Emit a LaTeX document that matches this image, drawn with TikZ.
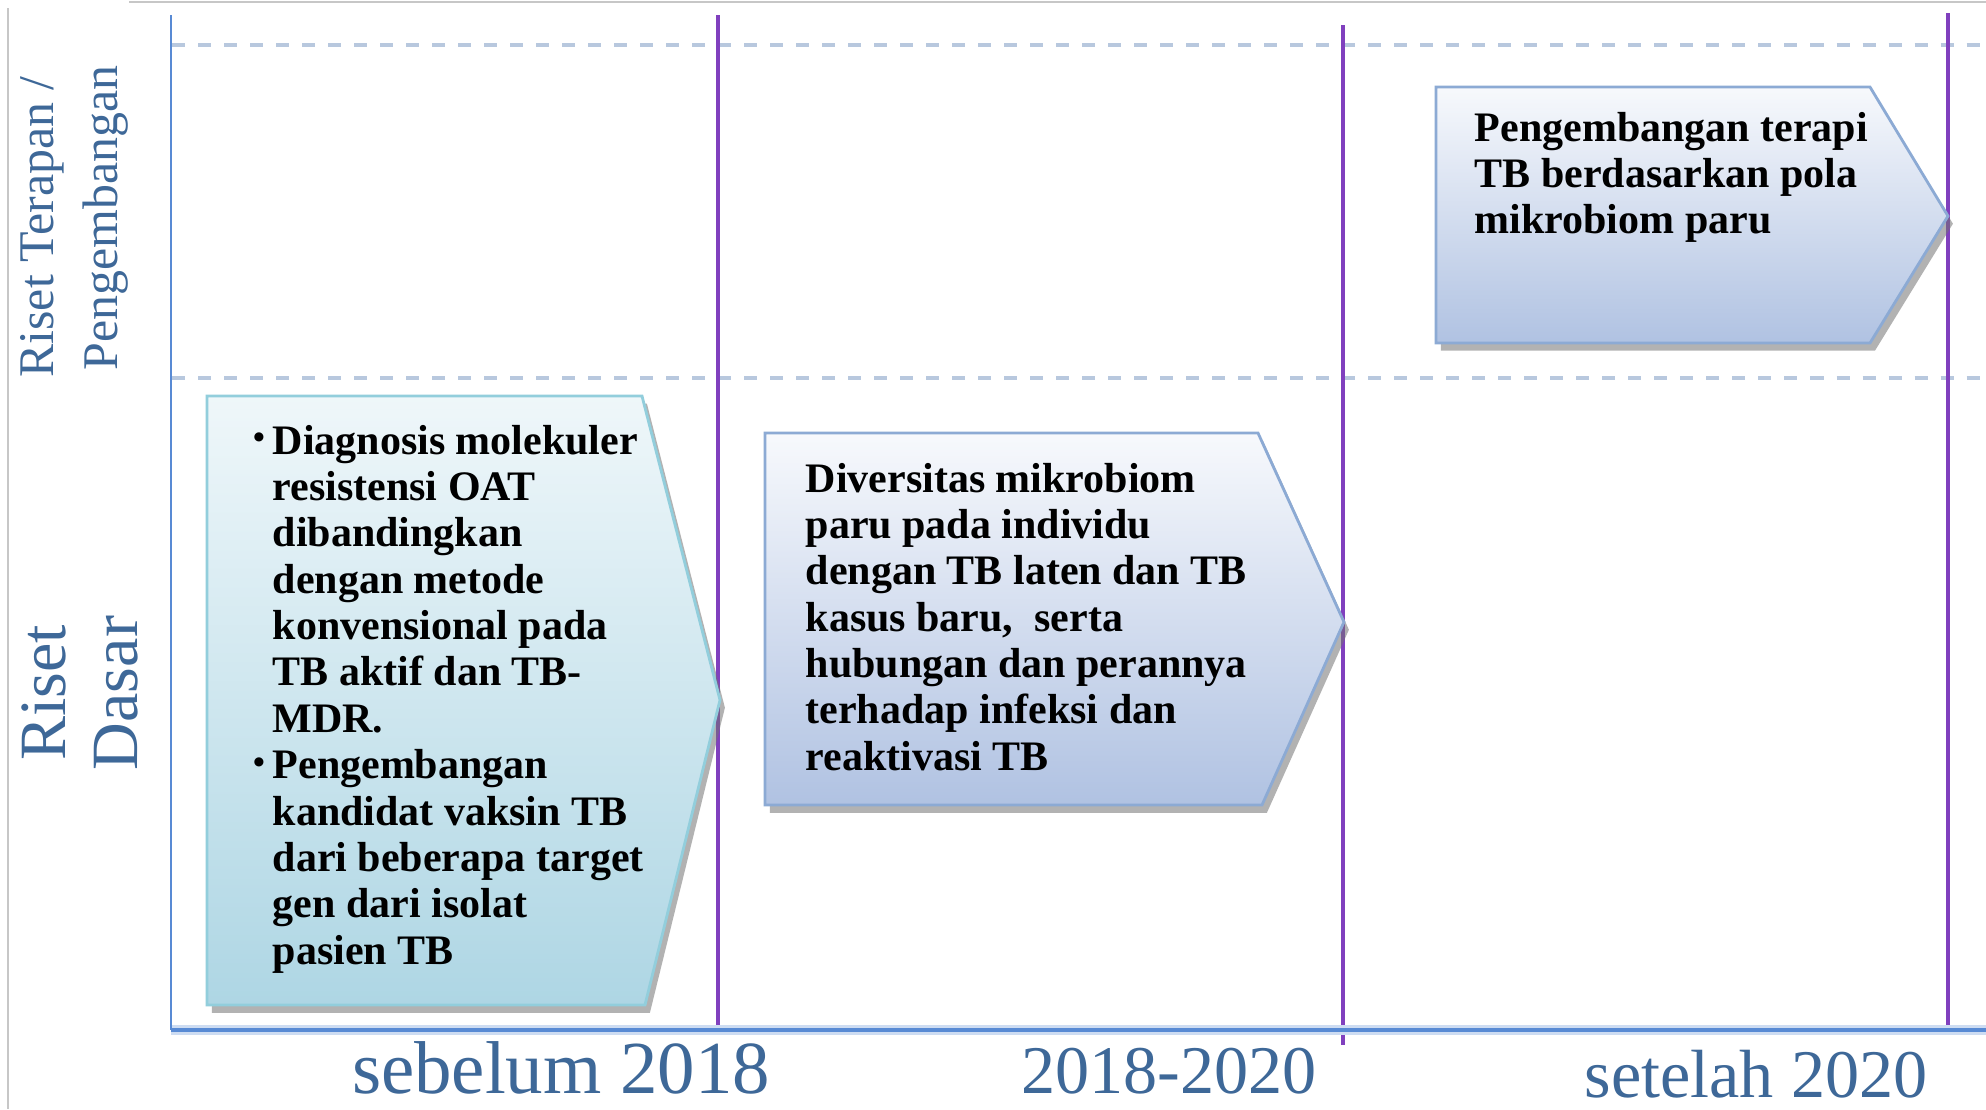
\documentclass[tikz,border=0pt]{standalone}
\usepackage{fontspec}
\setmainfont{Liberation Serif}
\usepackage{tikz}
\usetikzlibrary{shadows}

\definecolor{axisblue}{RGB}{88,138,212}
\definecolor{gridgray}{RGB}{184,200,222}
\definecolor{yearpurple}{RGB}{128,64,190}
\definecolor{labelblue}{RGB}{62,104,152}
\definecolor{cyanedge}{RGB}{146,206,220}
\definecolor{cyanfill}{RGB}{174,214,228}
\definecolor{steeledge}{RGB}{140,170,212}
\definecolor{steelfill}{RGB}{176,194,226}

\newcommand\boxtext[1]{\parbox[t]{5cm}{\raggedright\bfseries
    \fontsize{11.95}{13.2}\selectfont #1}}
\newcommand\bul{\leavevmode\llap{\raisebox{0.12em}{\scalebox{0.8}{\textbullet}}\kern 2.2pt}}

\begin{document}
\begin{tikzpicture}[
    x=0.1mm, y=-0.1mm,
    chevron/.style={line width=0.8pt,
        drop shadow={shadow xshift=1.4pt, shadow yshift=-2.2pt,
            opacity=0.55, fill=black!55}},
    rowlabel/.style={rotate=90, anchor=base, inner sep=0, text=labelblue},
    period/.style={anchor=base, inner sep=0, text=labelblue}
]
    \fill [white] (0,0) rectangle (1986,1109);
    \useasboundingbox (0,0) rectangle (1986,1109);

    \draw [black!22, line width=0.5pt] (129,2) -- (1986,2);
    \draw [black!22, line width=0.5pt] (8,8) -- (8,1109);

    \foreach \y in {45, 378} {
        \draw [gridgray, line width=0.9pt, dash pattern=on 3.7pt off 3.7pt]
            (172,\y) -- (1986,\y);
    }
    \foreach \x/\a/\b in {718/15/1030, 1343/25/1045, 1948/13/1030} {
        \draw [yearpurple, line width=1pt] (\x,\a) -- (\x,\b);
    }

    \draw [axisblue!30, line width=2.6pt] (171,1030) -- (1986,1030);
    \draw [axisblue, line width=0.8pt] (171,15) -- (171,1030);
    \draw [axisblue, line width=1.1pt] (171,1030) -- (1986,1030);

    \path [chevron, draw=cyanedge, top color=cyanfill!20, bottom color=cyanfill]
        (207,396) -- (642,396) -- (720,700) -- (645,1005) -- (207,1005) -- cycle;
    \path [chevron, draw=steeledge, top color=steelfill!10, bottom color=steelfill]
        (765,433) -- (1258,433) -- (1344,622) -- (1262,805) -- (765,805) -- cycle;
    \path [chevron, draw=steeledge, top color=steelfill!10, bottom color=steelfill]
        (1436,87) -- (1870,87) -- (1948,216) -- (1870,343) -- (1436,343) -- cycle;

    \node [anchor=base west, inner sep=0] (dasarkiri) at (272,454) {\boxtext{%
        \bul Diagnosis molekuler\\
        resistensi OAT\\
        dibandingkan\\
        dengan metode\\
        konvensional pada\\
        TB aktif dan TB-\\
        MDR.\\
        \bul Pengembangan\\
        kandidat vaksin TB\\
        dari beberapa target\\
        gen dari isolat\\
        pasien TB}};
    \node [anchor=base west, inner sep=0] (dasartengah) at (805,492) {\boxtext{%
        Diversitas mikrobiom\\
        paru pada individu\\
        dengan TB laten dan TB\\
        kasus baru,\ \ serta\\
        hubungan dan perannya\\
        terhadap infeksi dan\\
        reaktivasi TB}};
    \node [anchor=base west, inner sep=0] (terapankanan) at (1474,141) {\boxtext{%
        Pengembangan terapi\\
        TB berdasarkan pola\\
        mikrobiom paru}};

    \node [rowlabel, font=\fontsize{14.2}{14.2}\selectfont] (terapan) at (53,227) {Riset Terapan /};
    \node [rowlabel, font=\fontsize{14.2}{14.2}\selectfont] (pengembangan) at (117,218) {Pengembangan};
    \node [rowlabel, font=\fontsize{18.8}{18.8}\selectfont] (riset) at (65,693) {Riset};
    \node [rowlabel, font=\fontsize{18.8}{18.8}\selectfont] (dasar) at (137,693) {Dasar};

    \node [period, font=\fontsize{21.3}{21.3}\selectfont] (sebelum) at (561,1093) {sebelum 2018};
    \node [period, font=\fontsize{19.4}{19.4}\selectfont] (antara) at (1169,1093) {2018-2020};
    \node [period, font=\fontsize{19.4}{19.4}\selectfont] (setelah) at (1756,1097) {setelah 2020};
\end{tikzpicture}
\end{document}
